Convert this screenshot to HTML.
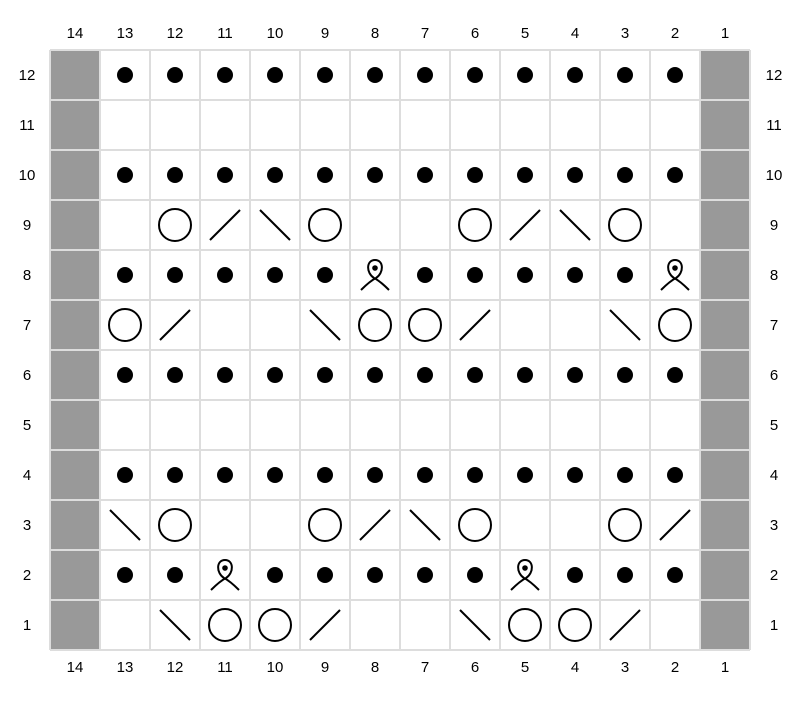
<!DOCTYPE html>
<html><head><meta charset="utf-8"><style>html,body{margin:0;padding:0;background:#fff}svg{display:block}</style></head>
<body>
<svg id="s" width="800" height="705" xmlns="http://www.w3.org/2000/svg" font-family="Liberation Sans, sans-serif" font-size="15" text-anchor="middle">
<rect x="0" y="0" width="800" height="705" fill="#fff"/>
<g id="g"></g>
<g fill="#000">
<text x="75" y="38">14</text><text x="125" y="38">13</text><text x="175" y="38">12</text><text x="225" y="38">11</text><text x="275" y="38">10</text><text x="325" y="38">9</text><text x="375" y="38">8</text><text x="425" y="38">7</text><text x="475" y="38">6</text><text x="525" y="38">5</text><text x="575" y="38">4</text><text x="625" y="38">3</text><text x="675" y="38">2</text><text x="725" y="38">1</text>
<text x="75" y="672">14</text><text x="125" y="672">13</text><text x="175" y="672">12</text><text x="225" y="672">11</text><text x="275" y="672">10</text><text x="325" y="672">9</text><text x="375" y="672">8</text><text x="425" y="672">7</text><text x="475" y="672">6</text><text x="525" y="672">5</text><text x="575" y="672">4</text><text x="625" y="672">3</text><text x="675" y="672">2</text><text x="725" y="672">1</text>
<text x="27" y="80">12</text><text x="27" y="130">11</text><text x="27" y="180">10</text><text x="27" y="230">9</text><text x="27" y="280">8</text><text x="27" y="330">7</text><text x="27" y="380">6</text><text x="27" y="430">5</text><text x="27" y="480">4</text><text x="27" y="530">3</text><text x="27" y="580">2</text><text x="27" y="630">1</text>
<text x="774" y="80">12</text><text x="774" y="130">11</text><text x="774" y="180">10</text><text x="774" y="230">9</text><text x="774" y="280">8</text><text x="774" y="330">7</text><text x="774" y="380">6</text><text x="774" y="430">5</text><text x="774" y="480">4</text><text x="774" y="530">3</text><text x="774" y="580">2</text><text x="774" y="630">1</text>
</g>
</svg>
<script>
var g=document.getElementById('g'),h='';
for(var r=0;r<12;r++){h+='<rect x="51" y="'+(51+r*50)+'" width="48" height="48" fill="#999"/>';h+='<rect x="701" y="'+(51+r*50)+'" width="48" height="48" fill="#999"/>';}
for(var i=0;i<=14;i++){h+='<line x1="'+(50+i*50)+'" y1="50" x2="'+(50+i*50)+'" y2="650" stroke="#ddd" stroke-width="2"/>';}
for(var i=0;i<=12;i++){h+='<line x1="50" y1="'+(50+i*50)+'" x2="750" y2="'+(50+i*50)+'" stroke="#ddd" stroke-width="2"/>';}
var rows={12:'DDDDDDDDDDDD',11:'------------',10:'DDDDDDDDDDDD',9:'-O/\\O--O/\\O-',8:'DDDDDTDDDDDT',7:'O/--\\OO/--\\O',6:'DDDDDDDDDDDD',5:'------------',4:'DDDDDDDDDDDD',3:'\\O--O/\\O--O/',2:'DDTDDDDDTDDD',1:'-\\OO/--\\OO/-'};
for(var r=1;r<=12;r++){var s=rows[r];for(var k=0;k<12;k++){var c=13-k,cx=775-50*c,cy=675-50*r,ch=s[k];
if(ch=='D')h+='<circle cx="'+cx+'" cy="'+cy+'" r="8" fill="#000"/>';
else if(ch=='O')h+='<circle cx="'+cx+'" cy="'+cy+'" r="16" fill="none" stroke="#000" stroke-width="2"/>';
else if(ch=='/')h+='<line x1="'+(cx-15)+'" y1="'+(cy+15)+'" x2="'+(cx+15)+'" y2="'+(cy-15)+'" stroke="#000" stroke-width="2"/>';
else if(ch=='\\')h+='<line x1="'+(cx-15)+'" y1="'+(cy-15)+'" x2="'+(cx+15)+'" y2="'+(cy+15)+'" stroke="#000" stroke-width="2"/>';
else if(ch=='T')h+='<g transform="translate('+cx+','+cy+')"><path d="M14,15 Q5,6 -1,3 C-9,-2 -9,-15 0,-15 C9,-15 9,-2 1,3 Q-5,6 -14,15" fill="none" stroke="#000" stroke-width="2"/><circle cx="0" cy="-7" r="2.8" fill="#000"/></g>';
}}
g.innerHTML=h;
</script>
</body></html>
